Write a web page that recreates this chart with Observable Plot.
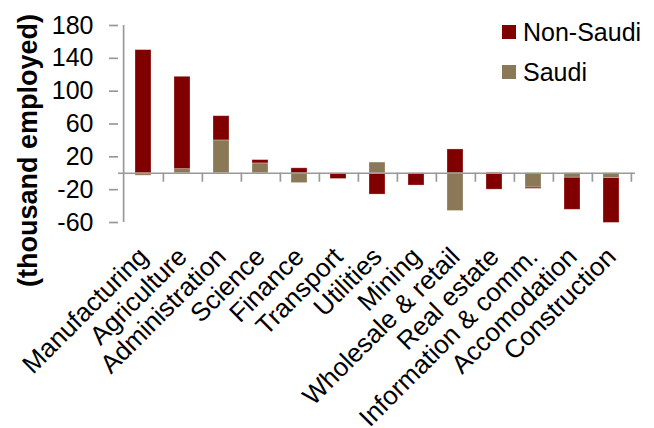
<!DOCTYPE html>
<html>
<head>
<meta charset="utf-8">
<script src="https://cdn.jsdelivr.net/npm/d3@7"></script>
<script src="https://cdn.jsdelivr.net/npm/@observablehq/plot@0.6"></script>
<style>
  html, body { margin: 0; padding: 0; background: #fff; }
  #wrap { position: relative; width: 654px; height: 428px; overflow: hidden; font-family: "Liberation Sans", Arial, sans-serif; }
  .lg { position: absolute; left: 502px; display: flex; align-items: center; font-size: 25px; color: #000; line-height: 1; }
  .lg span.sw { display: inline-block; width: 14px; height: 14px; margin-right: 7px; }
</style>
</head>
<body>
<div id="wrap"></div>
<script>
const sectors = ["Manufacturing","Agriculture","Administration","Science","Finance","Transport","Utilities","Mining","Wholesale & retail","Real estate","Information & comm.","Accomodation","Construction"];
const saudi    = [-3, 5, 40, 12, -12, -1, 13, -1, -46, 1, -17.5, -5.5, -6];
const nonSaudi = [150, 112.5, 29.5, 4, 6, -6, -26, -14, 29, -20, -1.5, -39, -54.5];
const seriesNames = ["Non-Saudi", "Saudi"];
const seriesColors = ["#800000", "#8B7856"];
const yTicks = [180, 140, 100, 60, 20, -20, -60];
const yTitle = "(thousand employed)";

// long table: Saudi first so it stacks nearest zero
const rows = [];
sectors.forEach((s, i) => {
  rows.push({sector: s, series: "Saudi", value: saudi[i]});
  rows.push({sector: s, series: "Non-Saudi", value: nonSaudi[i]});
});

const W = 654, H = 428, mL = 118, mR = 19, mT = 25, mB = 206;
const step = (W - mL - mR) / sectors.length;
const axisGray = "#999999";

const plot = Plot.plot({
  width: W, height: H,
  marginLeft: mL, marginRight: mR, marginTop: mT, marginBottom: mB,
  style: {fontFamily: "Liberation Sans, Arial, sans-serif", background: "#fff", color: "#000", overflow: "visible"},
  x: {domain: sectors, paddingInner: 0.59, paddingOuter: 0.295, label: null},
  y: {domain: [-60, 180], label: null},
  color: {domain: seriesNames, range: seriesColors},
  marks: [
    Plot.barY(rows, {x: "sector", y: "value", fill: "series", stroke: "#ffffff", strokeOpacity: 0.35, strokeWidth: 0.8}),
    Plot.ruleY([0], {stroke: axisGray, strokeWidth: 1.7}),
    Plot.ruleX([sectors[0]], {x: d => d, y1: -60, y2: 180, dx: -step / 2, stroke: axisGray, strokeWidth: 1.7}),
    Plot.ruleX(sectors, {x: d => d, y1: 0, y2: 0, insetBottom: -9, dx: step / 2, stroke: axisGray, strokeWidth: 1.7}),
    Plot.axisY({ticks: yTicks, tickSize: 9, tickPadding: 16, fontSize: 25, stroke: axisGray, strokeWidth: 1.7, fill: "#000", tickFormat: d => String(d)}),
    Plot.axisX({anchor: "bottom", tickSize: 0, tickPadding: 30, tickRotate: -45, fontSize: 26, fill: "#000"}),
    Plot.text([yTitle], {frameAnchor: "left", textAnchor: "middle", rotate: -90, dx: -90.5, dy: 26.5, fontSize: 27, fontWeight: "bold", fill: "#000"})
  ]
});

const wrap = document.getElementById("wrap");
wrap.appendChild(plot);

// legend
seriesNames.forEach((name, i) => {
  const d = document.createElement("div");
  d.className = "lg";
  d.style.top = (19 + i * 40) + "px";
  d.style.height = "26px";
  const sw = document.createElement("span");
  sw.className = "sw";
  sw.style.background = seriesColors[i];
  d.appendChild(sw);
  d.appendChild(document.createTextNode(name));
  wrap.appendChild(d);
});
</script>
</body>
</html>
